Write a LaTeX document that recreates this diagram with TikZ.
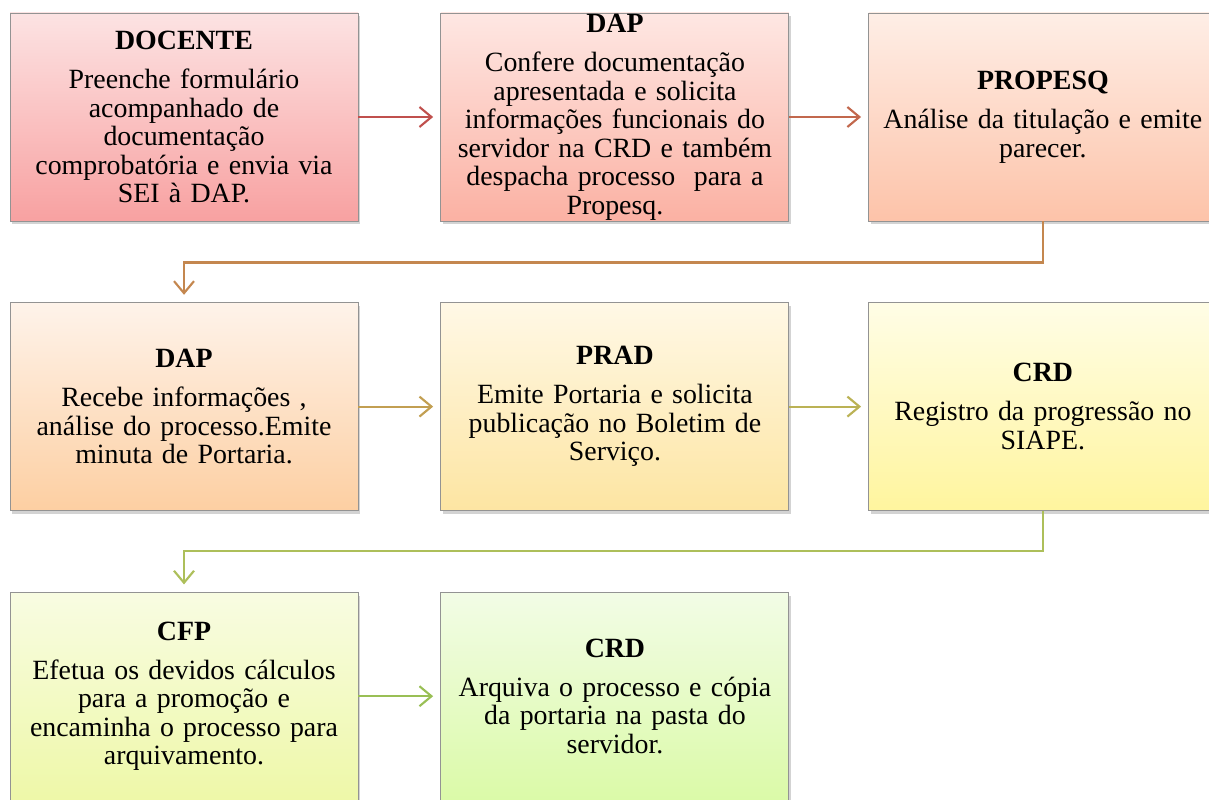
\documentclass[tikz,border=0pt]{standalone}
\usepackage{fontspec}
\setmainfont{Liberation Serif}
\usepackage{tikz}
\usetikzlibrary{arrows.meta,positioning,shadows}

\definecolor{topA}{HTML}{FCE3E3}
\definecolor{botA}{HTML}{F8A1A1}
\definecolor{topB}{HTML}{FEE7E3}
\definecolor{botB}{HTML}{FBB1A3}
\definecolor{topC}{HTML}{FEEEE6}
\definecolor{botC}{HTML}{FDC3A9}
\definecolor{topD}{HTML}{FEF3EA}
\definecolor{botD}{HTML}{FDCFA2}
\definecolor{topE}{HTML}{FFF8E6}
\definecolor{botE}{HTML}{FDE5A2}
\definecolor{topF}{HTML}{FFFDE6}
\definecolor{botF}{HTML}{FFF59E}
\definecolor{topG}{HTML}{F8FCE2}
\definecolor{botG}{HTML}{EEF8A8}
\definecolor{topH}{HTML}{F2FCE6}
\definecolor{botH}{HTML}{DBFAA8}
\definecolor{lineA}{HTML}{C0504D}
\definecolor{lineB}{HTML}{C2684D}
\definecolor{lineC}{HTML}{C4874F}
\definecolor{lineD}{HTML}{C29F52}
\definecolor{lineE}{HTML}{BBB255}
\definecolor{lineF}{HTML}{ADBF5A}
\definecolor{lineG}{HTML}{99BF55}

\begin{document}
\begin{tikzpicture}[->,>={Straight Barb[length=9pt,width=15pt]},shorten >=5.5pt,auto,node distance=60.5pt and 61.5pt,
  line width=1.6pt,main node/.style={rectangle,draw=gray!85,line width=0.7pt,minimum width=261pt,minimum height=156pt,inner sep=0pt,text width=255pt,align=center,font=\fontsize{20.9}{21.4}\selectfont,drop shadow={shadow xshift=1.5pt,shadow yshift=-2.5pt,opacity=0.35}}]

  \useasboundingbox (0,0) rectangle (906.75pt,-599.25pt);

  \node[main node,top color=topA,bottom color=botA] (1) at (138pt,-87.75pt)
    {\textbf{DOCENTE}\\[8pt]Preenche formulário\\acompanhado de\\documentação\\comprobatória e envia via\\SEI à DAP.};
  \node[main node,top color=topB,bottom color=botB] (2) [right=of 1]
    {\textbf{DAP}\\[8pt]Confere documentação\\apresentada e solicita\\informações funcionais do\\servidor na CRD e também\\despacha processo\ \ para a\\Propesq.};
  \node[main node,top color=topC,bottom color=botC] (3) [right=59.25pt of 2]
    {\textbf{PROPESQ}\\[8pt]Análise da titulação e emite\\parecer.};
  \node[main node,top color=topD,bottom color=botD] (4) [below=of 1]
    {\textbf{DAP}\\[8pt]Recebe informações ,\\análise do processo.Emite\\minuta de Portaria.};
  \node[main node,top color=topE,bottom color=botE] (5) [right=of 4]
    {\textbf{PRAD}\\[8pt]Emite Portaria e solicita\\publicação no Boletim de\\Serviço.};
  \node[main node,top color=topF,bottom color=botF] (6) [right=59.25pt of 5]
    {\textbf{CRD}\\[8pt]Registro da progressão no\\SIAPE.};
  \node[main node,top color=topG,bottom color=botG] (7) [below=of 4]
    {\textbf{CFP}\\[8pt]Efetua os devidos cálculos\\para a promoção e\\encaminha o processo para\\arquivamento.};
  \node[main node,top color=topH,bottom color=botH] (8) [right=of 7]
    {\textbf{CRD}\\[8pt]Arquiva o processo e cópia\\da portaria na pasta do\\servidor.};

  \path
    (1) edge[lineA] (2)
    (2) edge[lineB] (3)
    (4) edge[lineD] (5)
    (5) edge[lineE] (6)
    (7) edge[lineG] (8);

  \draw[lineC] (3.south) -- ++(0,-30.75pt) -| (4.north);
  \draw[lineF] (6.south) -- ++(0,-30pt) -| (7.north);

\end{tikzpicture}
\end{document}
